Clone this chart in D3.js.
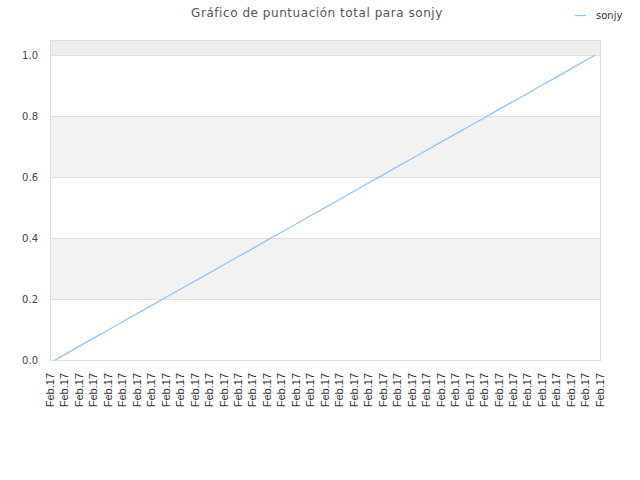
<html lang="es">
<head>
    <meta charset="UTF-8">
    <title>Gráfico de puntuación total para sonjy</title>
    <style>
        body { margin: 0; background: #fff; }
        .grid line { stroke: #e0e0e0; }
        .xlab text { font-family: "Liberation Sans", Arial, sans-serif; font-size: 11px; fill: #333; }
        .ylab text { font-family: "DejaVu Sans", sans-serif; font-size: 10px; fill: #444; }
    </style>
</head>
<body>
    <svg width="640" height="480"></svg>

    <script src="https://d3js.org/d3.v7.min.js"></script>
    <script>
        (function() {
            'use strict';

            var TITLE = "Gráfico de puntuación total para sonjy";
            var SERIES = "sonjy";

            var categories = [
                "Feb.17","Feb.17","Feb.17","Feb.17","Feb.17","Feb.17","Feb.17","Feb.17","Feb.17","Feb.17",
                "Feb.17","Feb.17","Feb.17","Feb.17","Feb.17","Feb.17","Feb.17","Feb.17","Feb.17","Feb.17",
                "Feb.17","Feb.17","Feb.17","Feb.17","Feb.17","Feb.17","Feb.17","Feb.17","Feb.17","Feb.17",
                "Feb.17","Feb.17","Feb.17","Feb.17","Feb.17","Feb.17","Feb.17","Feb.17","Feb.17"
            ];

            var values = [
                0.000, 0.026, 0.053, 0.079, 0.105, 0.132, 0.158, 0.184, 0.211, 0.237,
                0.263, 0.289, 0.316, 0.342, 0.368, 0.395, 0.421, 0.447, 0.474, 0.500,
                0.526, 0.553, 0.579, 0.605, 0.632, 0.658, 0.684, 0.711, 0.737, 0.763,
                0.789, 0.816, 0.842, 0.868, 0.895, 0.921, 0.947, 0.974, 1.000
            ];

            var yTicks = [0, 0.2, 0.4, 0.6, 0.8, 1.0];

            var LEFT = 50, RIGHT = 600, TOP = 40, BOTTOM = 360;
            var LINE_COLOR = "#90c4f7";

            var svg = d3.select("svg");

            var y = d3.scaleLinear().domain([0, 1.05]).range([BOTTOM, TOP]);
            var xLab = d3.scalePoint().domain(d3.range(categories.length)).range([LEFT, RIGHT]);
            var x = d3.scaleLinear().domain([0, values.length - 1]).range([LEFT + 5, RIGHT - 5]);

            // bandas alternas
            var bands = [[0.2, 0.4], [0.6, 0.8], [1.0, 1.05]];
            svg.append("g").selectAll("rect")
                .data(bands)
                .enter().append("rect")
                .attr("x", LEFT)
                .attr("width", RIGHT - LEFT)
                .attr("y", function(d) { return y(d[1]); })
                .attr("height", function(d) { return y(d[0]) - y(d[1]); })
                .attr("fill", function(d, i) { return i === 2 ? "#eeeeee" : "#f2f2f2"; });

            // rejilla
            svg.append("g").attr("class", "grid")
                .selectAll("line")
                .data(yTicks)
                .enter().append("line")
                .attr("x1", LEFT).attr("x2", RIGHT)
                .attr("y1", function(d) { return Math.round(y(d)) + 0.5; })
                .attr("y2", function(d) { return Math.round(y(d)) + 0.5; });

            // marco
            svg.append("rect")
                .attr("x", LEFT + 0.5).attr("y", TOP + 0.5)
                .attr("width", RIGHT - LEFT).attr("height", BOTTOM - TOP)
                .attr("fill", "none").attr("stroke", "#dcdcdc");

            // eje y
            svg.append("g").attr("class", "ylab")
                .selectAll("text")
                .data(yTicks)
                .enter().append("text")
                .attr("x", 38)
                .attr("y", function(d) { return y(d); })
                .attr("dy", "0.35em")
                .attr("text-anchor", "end")
                .text(function(d) { return d3.format(".1f")(d); });

            // eje x
            svg.append("g").attr("class", "xlab")
                .selectAll("text")
                .data(categories)
                .enter().append("text")
                .attr("transform", function(d, i) {
                    return "translate(" + xLab(i) + ",373) rotate(-90)";
                })
                .attr("dy", "0.35em")
                .attr("text-anchor", "end")
                .text(function(d) { return d; });

            // linea
            var line = d3.line()
                .x(function(d, i) { return x(i); })
                .y(function(d) { return y(d); });

            svg.append("path")
                .datum(values)
                .attr("d", line)
                .attr("fill", "none")
                .attr("stroke", LINE_COLOR)
                .attr("stroke-width", 1.3);

            // titulo
            svg.append("text")
                .attr("x", 317).attr("y", 17)
                .attr("text-anchor", "middle")
                .style("font-family", "DejaVu Sans, sans-serif")
                .style("font-size", "12px")
                .style("letter-spacing", "0.55px")
                .style("fill", "#555")
                .text(TITLE);

            // leyenda
            svg.append("line")
                .attr("x1", 575).attr("x2", 586)
                .attr("y1", 15.5).attr("y2", 15.5)
                .attr("stroke", LINE_COLOR)
                .attr("stroke-width", 1.3);
            svg.append("text")
                .attr("x", 596).attr("y", 19)
                .style("font-family", "DejaVu Sans, sans-serif")
                .style("font-size", "10px")
                .style("fill", "#333")
                .text(SERIES);
        })();
    </script>
</body>
</html>
